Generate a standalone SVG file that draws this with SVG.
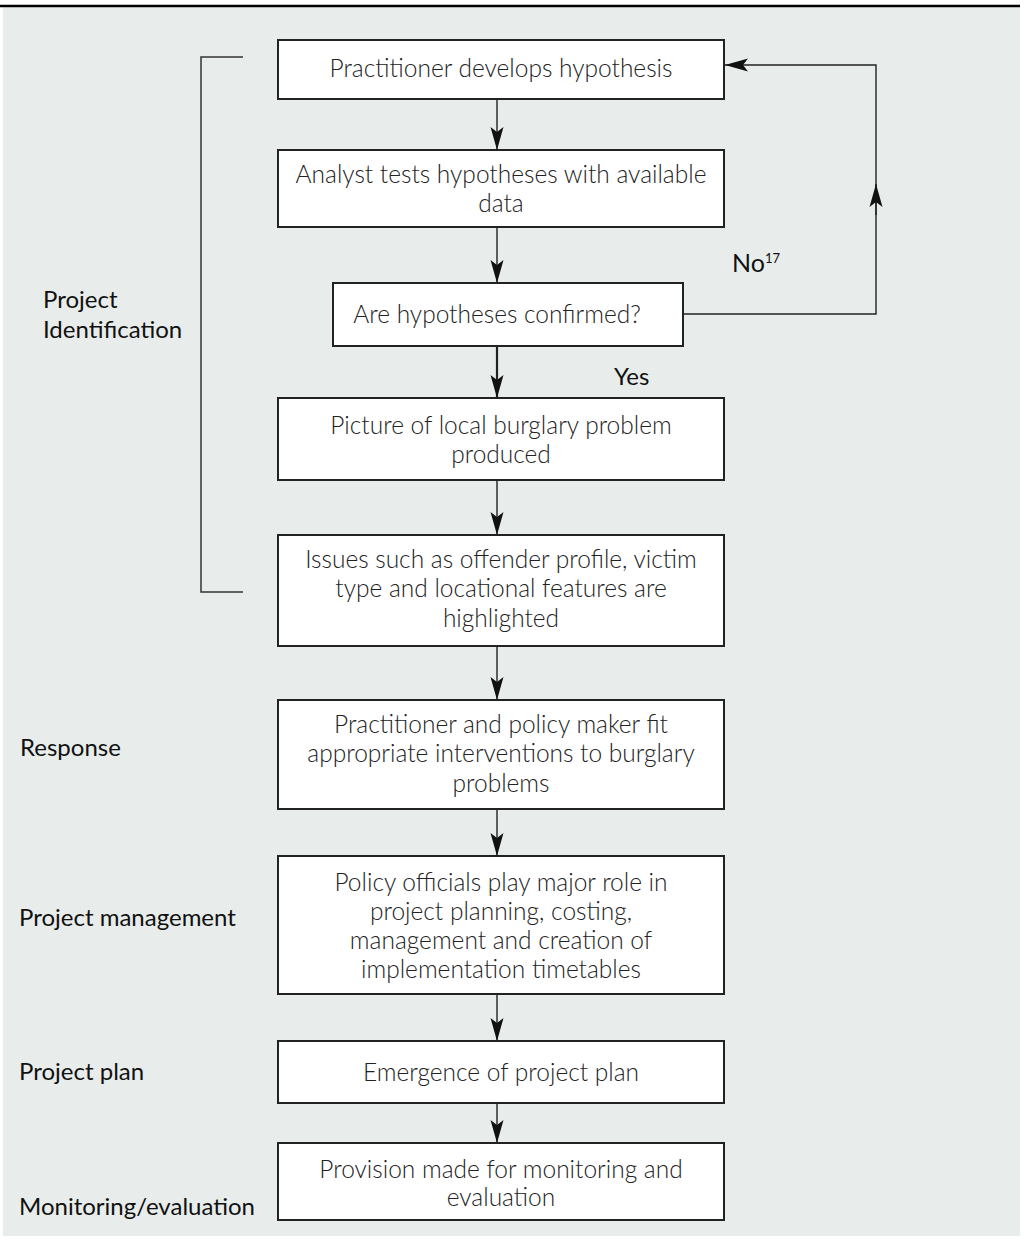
<svg xmlns="http://www.w3.org/2000/svg" width="1026" height="1240" viewBox="0 0 1026 1240">
<style>
.box{fill:#ffffff;stroke:#222;stroke-width:2}
.bt{font-family:Lato,"Liberation Sans",Arial,sans-serif;font-weight:300;font-size:24.5px;fill:#222;text-anchor:middle}
.lbl{font-family:Lato,"Liberation Sans",Arial,sans-serif;font-weight:400;font-size:24px;fill:#111}
.con{fill:none;stroke:#222;stroke-width:1.4}
</style>
<defs>
<marker id="ah" markerUnits="userSpaceOnUse" markerWidth="26" markerHeight="16" viewBox="-24 -8 26 16" refX="0" refY="0" orient="auto">
<path d="M0,0 L-23,-6.5 L-18,0 L-23,6.5 Z" fill="#111"/>
</marker>
</defs>
<rect x="3" y="7" width="1017" height="1229" fill="#e8edeb"/>
<line x1="0" y1="6" x2="1020" y2="6" stroke="#000" stroke-width="2.5"/>

<g id="bracket">
<path d="M243,57 H201 V592 H243" fill="none" stroke="#333" stroke-width="1.5"/>
</g>

<g id="labels">
<text class="lbl" x="43" y="308">Project</text>
<text class="lbl" x="43" y="338">Identification</text>
<text class="lbl" x="20" y="756">Response</text>
<text class="lbl" x="19" y="926">Project management</text>
<text class="lbl" x="19" y="1080">Project plan</text>
<text class="lbl" x="19" y="1215">Monitoring/evaluation</text>
</g>

<g id="n1"><rect class="box" x="278" y="40" width="446" height="59"/>
<text class="bt" x="501" y="77">Practitioner develops hypothesis</text></g>
<g id="n2"><rect class="box" x="278" y="150" width="446" height="77"/>
<text class="bt" x="501" y="183">Analyst tests hypotheses with available</text>
<text class="bt" x="501" y="212">data</text></g>
<g id="n3"><rect class="box" x="333" y="283" width="350" height="63"/>
<text class="bt" x="497" y="323">Are hypotheses confirmed?</text></g>
<g id="n4"><rect class="box" x="278" y="398" width="446" height="82"/>
<text class="bt" x="501" y="434">Picture of local burglary problem</text>
<text class="bt" x="501" y="463">produced</text></g>
<g id="n5"><rect class="box" x="278" y="535" width="446" height="111"/>
<text class="bt" x="501" y="568">Issues such as offender profile, victim</text>
<text class="bt" x="501" y="597">type and locational features are</text>
<text class="bt" x="501" y="627">highlighted</text></g>
<g id="n6"><rect class="box" x="278" y="700" width="446" height="109"/>
<text class="bt" x="501" y="733">Practitioner and policy maker fit</text>
<text class="bt" x="501" y="762">appropriate interventions to burglary</text>
<text class="bt" x="501" y="792">problems</text></g>
<g id="n7"><rect class="box" x="278" y="856" width="446" height="138"/>
<text class="bt" x="501" y="891">Policy officials play major role in</text>
<text class="bt" x="501" y="920">project planning, costing,</text>
<text class="bt" x="501" y="949">management and creation of</text>
<text class="bt" x="501" y="978">implementation timetables</text></g>
<g id="n8"><rect class="box" x="278" y="1041" width="446" height="62"/>
<text class="bt" x="501" y="1081">Emergence of project plan</text></g>
<g id="n9"><rect class="box" x="278" y="1143" width="446" height="77"/>
<text class="bt" x="501" y="1178">Provision made for monitoring and</text>
<text class="bt" x="501" y="1206">evaluation</text></g>

<g id="connectors">
<line class="con" x1="497" y1="99" x2="497" y2="150" marker-end="url(#ah)"/>
<line class="con" x1="497" y1="227" x2="497" y2="283" marker-end="url(#ah)"/>
<line class="con" x1="497" y1="346" x2="497" y2="398" marker-end="url(#ah)" style="stroke-width:2.2"/>
<line class="con" x1="497" y1="480" x2="497" y2="535" marker-end="url(#ah)"/>
<line class="con" x1="497" y1="646" x2="497" y2="700" marker-end="url(#ah)"/>
<line class="con" x1="497" y1="809" x2="497" y2="856" marker-end="url(#ah)"/>
<line class="con" x1="497" y1="994" x2="497" y2="1041" marker-end="url(#ah)"/>
<line class="con" x1="497" y1="1103" x2="497" y2="1143" marker-end="url(#ah)"/>
<polyline class="con" points="683,314 876,314 876,65 725,65" marker-end="url(#ah)"/>
<line class="con" x1="876" y1="215" x2="876" y2="184" marker-end="url(#ah)"/>
<text class="lbl" x="732" y="272" style="font-size:25px">No<tspan dy="-9" style="font-size:13px">17</tspan></text>
<text class="lbl" x="614" y="385">Yes</text>
</g>
</svg>
